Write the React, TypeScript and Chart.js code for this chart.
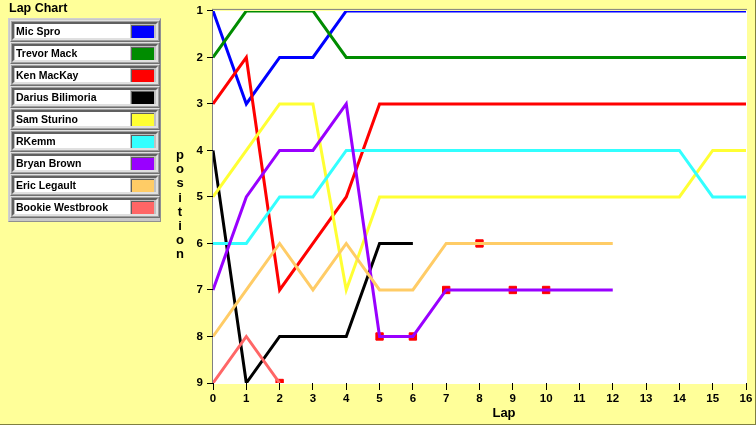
import React, { useEffect, useRef } from "react";
import { Chart, registerables } from "chart.js";

Chart.register(...registerables);

// ---- data ----
const laps = [0, 1, 2, 3, 4, 5, 6, 7, 8, 9, 10, 11, 12, 13, 14, 15, 16];
const driverNames = [
  "Mic Spro",
  "Trevor Mack",
  "Ken MacKay",
  "Darius Bilimoria",
  "Sam Sturino",
  "RKemm",
  "Bryan Brown",
  "Eric Legault",
  "Bookie Westbrook",
];
const driverColors = [
  "#0000FF",
  "#008C00",
  "#FF0000",
  "#000000",
  "#FFFF33",
  "#33FFFF",
  "#9900FF",
  "#FFCC66",
  "#FF6666",
];
const micSpro = [1, 3, 2, 2, 1, 1, 1, 1, 1, 1, 1, 1, 1, 1, 1, 1, 1];
const trevorMack = [2, 1, 1, 1, 2, 2, 2, 2, 2, 2, 2, 2, 2, 2, 2, 2, 2];
const kenMacKay = [3, 2, 7, 6, 5, 3, 3, 3, 3, 3, 3, 3, 3, 3, 3, 3, 3];
const dariusBilimoria = [4, 9, 8, 8, 8, 6, 6];
const samSturino = [5, 4, 3, 3, 7, 5, 5, 5, 5, 5, 5, 5, 5, 5, 5, 4, 4];
const rKemm = [6, 6, 5, 5, 4, 4, 4, 4, 4, 4, 4, 4, 4, 4, 4, 5, 5];
const bryanBrown = [7, 5, 4, 4, 3, 8, 8, 7, 7, 7, 7, 7, 7];
const ericLegault = [8, 7, 6, 7, 6, 7, 7, 6, 6, 6, 6, 6, 6];
const bookieWestbrook = [9, 8, 9];
const seriesValues = [
  micSpro,
  trevorMack,
  kenMacKay,
  dariusBilimoria,
  samSturino,
  rKemm,
  bryanBrown,
  ericLegault,
  bookieWestbrook,
];
// pit / event markers (red squares)
const markerLaps = [5, 6, 7, 9, 10, 8, 2];
const markerPositions = [8, 8, 7, 7, 7, 6, 9];
const positionTicks = [1, 2, 3, 4, 5, 6, 7, 8, 9];
const yTitleLetters = ["p", "o", "s", "i", "t", "i", "o", "n"];
const xTitle = "Lap";
const panelTitle = "Lap Chart";

const PAGE_BG = "#FFFF99";
const TICK_FONT = { family: "Liberation Sans", size: 11.5, weight: "bold" as const };

const framePlugin = {
  id: "frame",
  beforeDraw(chart: any) {
    const { ctx, width, height, chartArea } = chart;
    ctx.save();
    ctx.fillStyle = PAGE_BG;
    ctx.fillRect(0, 0, width, height);
    ctx.fillStyle = "#FFFFFF";
    ctx.fillRect(
      chartArea.left,
      chartArea.top,
      chartArea.right - chartArea.left + 1,
      chartArea.bottom - chartArea.top + 1
    );
    // page border right / bottom
    ctx.fillStyle = "#808040";
    ctx.fillRect(width - 1, 0, 1, height);
    ctx.fillRect(0, height - 1, width, 1);
    // plot frame (left + top)
    ctx.fillStyle = "#808080";
    ctx.fillRect(chartArea.left - 1, chartArea.top - 2, 1, chartArea.bottom - chartArea.top + 2);
    ctx.fillRect(chartArea.left - 1, chartArea.top - 2, chartArea.right - chartArea.left + 2, 1);
    ctx.restore();
  },
  afterDraw(chart: any) {
    const { ctx } = chart;
    ctx.save();
    ctx.fillStyle = "#000000";
    ctx.textAlign = "center";
    ctx.textBaseline = "alphabetic";
    ctx.font = "bold 13px 'Liberation Sans'";
    ctx.fillText(xTitle, 504, 417);
    yTitleLetters.forEach((ch, i) => {
      ctx.fillText(ch, 180, 159 + i * 14.2);
    });
    ctx.restore();
  },
};

function Legend() {
  const rows = driverNames.map((name, i) => {
    const top = 20 + i * 22;
    return (
      <div key={name}>
        <div
          style={{
            position: "absolute",
            left: 10,
            top,
            width: 150,
            height: 22,
            boxSizing: "border-box",
            background: "#a0a0a0",
            borderTop: "1px solid #e0e0e0",
            borderLeft: "1px solid #e0e0e0",
            borderRight: "1px solid #707070",
            borderBottom: "1px solid #707070",
          }}
        />
        <div
          style={{
            position: "absolute",
            left: 12,
            top: top + 2,
            width: 146,
            height: 18,
            boxSizing: "border-box",
            background: "#c0c0c0",
            borderTop: "2px solid #606060",
            borderLeft: "2px solid #606060",
            borderRight: "2px solid #e0e0e0",
            borderBottom: "2px solid #e0e0e0",
          }}
        />
        <div
          style={{
            position: "absolute",
            left: 15,
            top: top + 4,
            width: 115,
            height: 14,
            background: "#FFFFFF",
            font: "bold 10.5px 'Liberation Sans'",
            lineHeight: "15px",
            color: "#000",
            paddingLeft: 1,
            boxSizing: "border-box",
            whiteSpace: "nowrap",
            overflow: "hidden",
          }}
        >
          {name}
        </div>
        <div
          style={{
            position: "absolute",
            left: 131,
            top: top + 5,
            width: 23,
            height: 13,
            boxSizing: "border-box",
            background: driverColors[i],
            borderTop: "1px solid #606060",
            borderLeft: "1px solid #606060",
          }}
        />
      </div>
    );
  });
  return (
    <>
      <div
        style={{
          position: "absolute",
          left: 9,
          top: 1,
          font: "bold 12.5px 'Liberation Sans'",
          color: "#000",
          lineHeight: "14px",
        }}
      >
        {panelTitle}
      </div>
      <div
        style={{
          position: "absolute",
          left: 8,
          top: 18,
          width: 153,
          height: 204,
          boxSizing: "border-box",
          background: "#c8c8c8",
          borderTop: "1px solid #d0d0d0",
          borderLeft: "1px solid #d0d0d0",
          borderRight: "1px solid #909090",
          borderBottom: "1px solid #909090",
        }}
      />
      {rows}
    </>
  );
}

export default function App() {
  const canvasRef = useRef<HTMLCanvasElement | null>(null);

  useEffect(() => {
    if (!canvasRef.current) return;
    const n = seriesValues.length;
    const datasets: any[] = seriesValues.map((vals, i) => ({
      label: driverNames[i],
      data: vals.map((v, k) => ({ x: laps[k], y: v })),
      borderColor: driverColors[i],
      backgroundColor: driverColors[i],
      borderWidth: 3,
      pointRadius: 0,
      pointHoverRadius: 0,
      tension: 0,
      fill: false,
      order: n - i,
    }));
    datasets.push({
      label: "markers",
      data: markerLaps.map((l, k) => ({ x: l, y: markerPositions[k] })),
      showLine: false,
      pointStyle: "rect",
      pointRadius: 5.2,
      pointBorderWidth: 1,
      borderColor: "#FF0000",
      backgroundColor: "#FF0000",
      order: 100,
    });

    const chart = new Chart(canvasRef.current, {
      type: "line",
      data: { datasets },
      options: {
        animation: false,
        responsive: false,
        devicePixelRatio: 1,
        layout: { padding: { top: 10, right: 10, bottom: 0, left: 0 } },
        plugins: {
          legend: { display: false },
          tooltip: { enabled: false },
        },
        events: [],
        scales: {
          x: {
            type: "linear",
            min: 0,
            max: 16,
            border: { display: false },
            grid: {
              drawOnChartArea: false,
              drawTicks: true,
              tickLength: 7,
              tickColor: "#000000",
              color: "#000000",
            },
            ticks: {
              stepSize: 1,
              autoSkip: false,
              color: "#000000",
              font: TICK_FONT,
              padding: 2,
              maxRotation: 0,
            },
            afterFit(scale: any) {
              scale.height = 42;
            },
          },
          y: {
            type: "linear",
            reverse: true,
            min: 1,
            max: 9,
            border: { display: false },
            grid: {
              drawOnChartArea: false,
              drawTicks: true,
              tickLength: 6,
              tickColor: "#000000",
              color: "#000000",
            },
            afterBuildTicks(scale: any) {
              scale.ticks = positionTicks.map((v) => ({ value: v }));
            },
            ticks: {
              color: "#000000",
              font: TICK_FONT,
              padding: 4,
            },
            afterFit(scale: any) {
              scale.width = 213;
            },
          },
        },
      },
      plugins: [framePlugin],
    });
    return () => chart.destroy();
  }, []);

  return (
    <div
      style={{
        position: "fixed",
        left: 0,
        top: 0,
        width: 756,
        height: 425,
        background: PAGE_BG,
        overflow: "hidden",
      }}
    >
      <canvas
        ref={canvasRef}
        width={756}
        height={425}
        style={{ position: "absolute", left: 0, top: 0, width: 756, height: 425 }}
      />
      <Legend />
    </div>
  );
}
